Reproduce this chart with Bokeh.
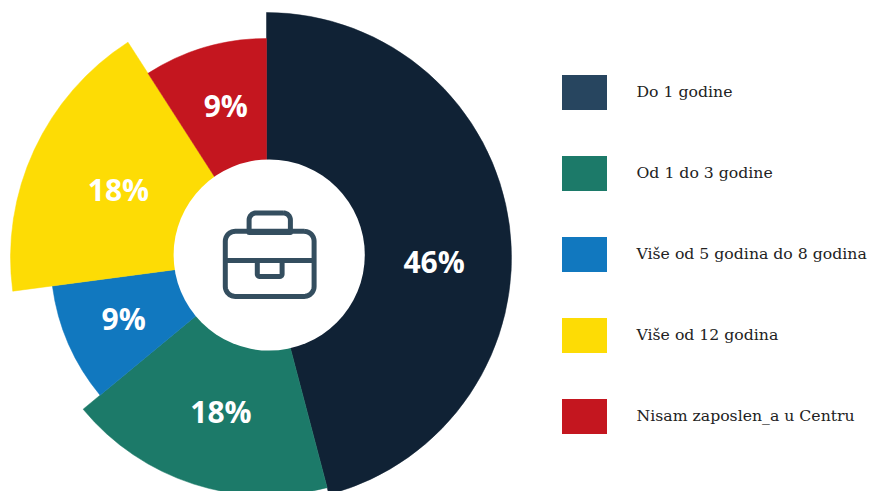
import math
from bokeh.plotting import figure
from bokeh.models import ColumnDataSource, Range1d
from bokeh.core.properties import value
from bokeh.embed import file_html
from bokeh.resources import INLINE

# --- data ---
categories = ["Do 1 godine", "Od 1 do 3 godine", "Više od 5 godina do 8 godina", "Više od 12 godina", "Nisam zaposlen_a u Centru"]
shares = [45.9, 18.1, 8.9, 18.0, 9.1]
slice_colors = ["#102235", "#1c7a69", "#1178bf", "#fddc05", "#c4161f"]
legend_colors = ["#27455f", "#1c7a69", "#1178bf", "#fddc05", "#c4161f"]
labels = ["46%", "18%", "9%", "18%", "9%"]

# --- layout (page pixels) ---
W, H = 871, 491
CX, CY = 266, 257
slice_radii = [245, 238, 216, 256, 219]
label_radii = [168, 162, 157, 161, 155]
label_nudge_x = [1, 4, 1, -2, 3]
label_nudge_y = [26, 0, -2, 0, -3]
PY = lambda y: H - y

p = figure(width=W, height=H, output_backend="svg", toolbar_location=None,
           x_range=Range1d(0, W), y_range=Range1d(0, H),
           min_border=0, outline_line_color=None, background_fill_color="white")
p.axis.visible = False
p.grid.visible = False

# slices
total = sum(shares)
starts, ends, lx, ly = [], [], [], []
cum = 0
for s, lr, nx, ny in zip(shares, label_radii, label_nudge_x, label_nudge_y):
    a0 = math.pi / 2 - 2 * math.pi * cum / total
    a1 = math.pi / 2 - 2 * math.pi * (cum + s) / total
    mid = (a0 + a1) / 2
    starts.append(a1)
    ends.append(a0)
    lx.append(CX + lr * math.cos(mid) + nx)
    ly.append(PY(CY) + lr * math.sin(mid) - ny)
    cum += s

src = ColumnDataSource(dict(x=[CX] * 5, y=[PY(CY)] * 5, r=slice_radii, start=starts, end=ends,
                            color=slice_colors, lx=lx, ly=ly, label=labels))
p.wedge(x="x", y="y", radius="r", start_angle="start", end_angle="end", fill_color="color",
        line_color="color", line_width=0.5, source=src)

# centre hole
p.circle(x=[268.7], y=[PY(254.5)], radius=95.6, fill_color="white", line_color=None)

# briefcase icon
def rrect(x0, y0, x1, y1, r, corners=(True, True, True, True)):
    xs, ys = [], []
    spec = [(x1, y0, -90, corners[1]), (x1, y1, 0, corners[2]), (x0, y1, 90, corners[3]), (x0, y0, 180, corners[0])]
    for cx, cy, a, rounded in spec:
        if not rounded:
            xs.append(cx); ys.append(cy); continue
        sx = -1 if cx == x0 else 1
        sy = -1 if cy == y0 else 1
        for k in range(13):
            t = math.radians(a + 90 * k / 12)
            xs.append(cx - sx * r + r * math.cos(t))
            ys.append(cy - sy * r + r * math.sin(t))
    xs.append(xs[0]); ys.append(ys[0])
    return xs, [PY(v) for v in ys]

ICON = "#344e5f"
for path in [rrect(224.8, 230.8, 313.6, 295.9, 10),
             rrect(248.6, 212.5, 289.9, 232, 7, (True, True, False, False)),
             rrect(256.8, 260, 281.6, 276, 2.5, (False, False, True, True))]:
    p.line(path[0], path[1], line_color=ICON, line_width=5, line_join="round")
p.line([224.8, 313.6], [PY(260), PY(260)], line_color=ICON, line_width=5)

# percentage labels
p.text(x="lx", y="ly", text="label", source=src, text_color="white", text_font=value("Open Sans"),
       text_font_style="bold", text_font_size="30px", text_align="center", text_baseline="middle")

# legend
leg_y = [92 + 81 * i for i in range(5)]
p.rect(x=[584] * 5, y=[PY(v) for v in leg_y], width=45, height=35, fill_color=legend_colors, line_color=None)
p.text(x=[636] * 5, y=[PY(v - 1) for v in leg_y], text=categories, text_color="#222222",
       text_font=value("DejaVu Serif"), text_font_size="15.7px", text_align="left", text_baseline="middle")

open("out.html", "w").write(file_html(p, INLINE))
